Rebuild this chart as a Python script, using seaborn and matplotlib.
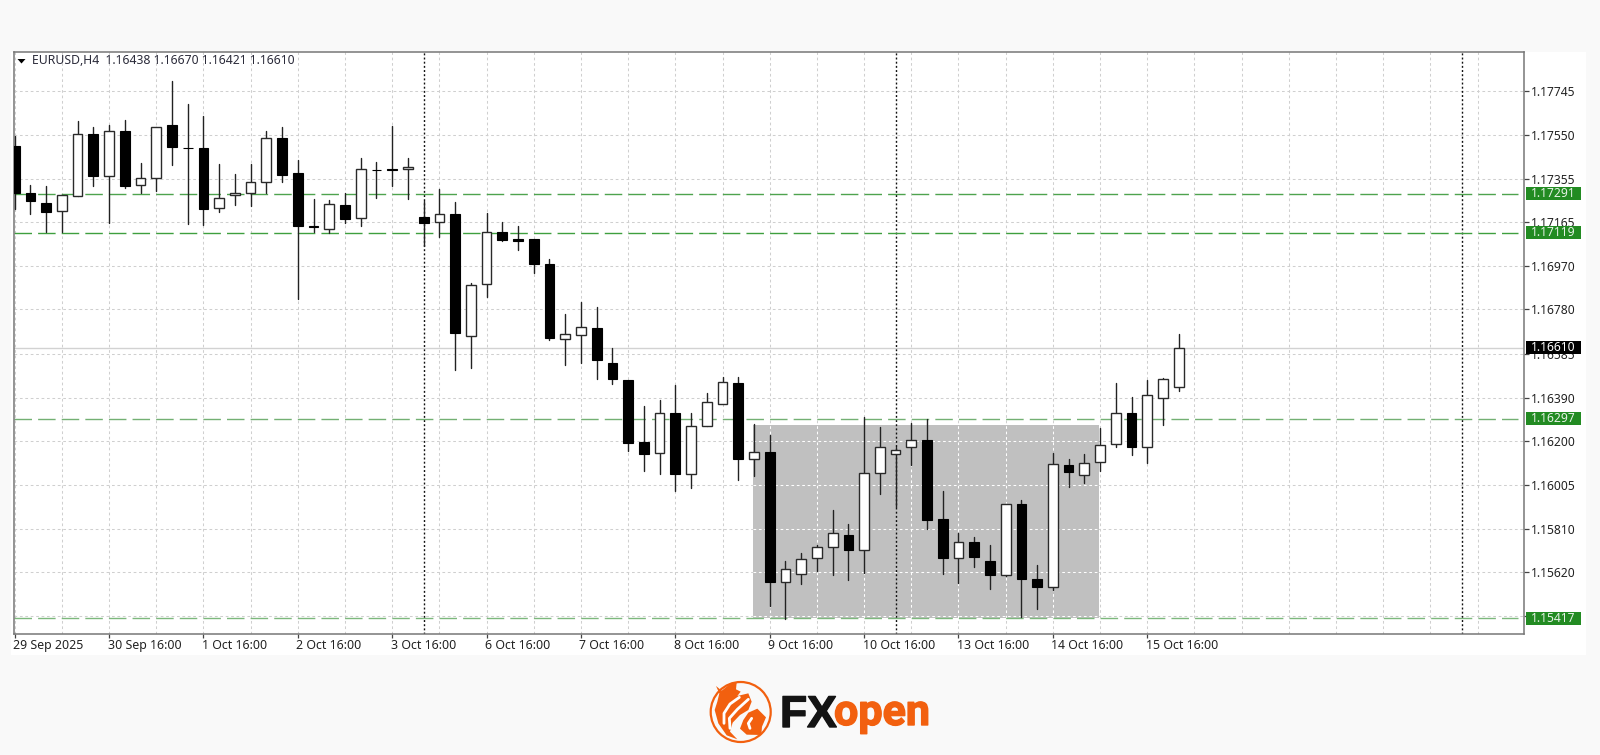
import pandas as pd
import matplotlib.pyplot as plt
import matplotlib.patheffects as pe
from matplotlib.patches import Circle, Polygon, Rectangle
from matplotlib.transforms import ScaledTranslation
import seaborn as sns

open_p = [1.17502, 1.17293, 1.17250, 1.17213, 1.17281, 1.17555, 1.17371, 1.17568, 1.17328, 1.17359,
          1.17596, 1.17493, 1.17493, 1.17230, 1.17286, 1.17296, 1.17344, 1.17536, 1.17384, 1.17147,
          1.17135, 1.17241, 1.17184, 1.17396, 1.17399, 1.17399, 1.17187, 1.17166, 1.17200, 1.16661,
          1.16893, 1.17121, 1.17090, 1.17090, 1.16982, 1.16651, 1.16669, 1.16700, 1.16545, 1.16470,
          1.16196, 1.16145, 1.16323, 1.16055, 1.16264, 1.16361, 1.16455, 1.16118, 1.16152, 1.15576,
          1.15613, 1.15682, 1.15729, 1.15785, 1.15718, 1.16056, 1.16143, 1.16172, 1.16203, 1.15853,
          1.15682, 1.15754, 1.15670, 1.15607, 1.15919, 1.15590, 1.15553, 1.16093, 1.16047, 1.16105,
          1.16186, 1.16323, 1.16173, 1.16390, 1.16438]
high_p = [1.17546, 1.17330, 1.17325, 1.17286, 1.17612, 1.17584, 1.17593, 1.17617, 1.17428, 1.17587,
          1.17789, 1.17687, 1.17633, 1.17424, 1.17377, 1.17422, 1.17570, 1.17584, 1.17439, 1.17266,
          1.17263, 1.17293, 1.17447, 1.17431, 1.17592, 1.17447, 1.17259, 1.17311, 1.17253, 1.16898,
          1.17208, 1.17168, 1.17149, 1.17090, 1.17002, 1.16760, 1.16812, 1.16792, 1.16610, 1.16470,
          1.16355, 1.16380, 1.16447, 1.16321, 1.16410, 1.16480, 1.16482, 1.16274, 1.16225, 1.15669,
          1.15704, 1.15740, 1.15893, 1.15834, 1.16306, 1.16261, 1.16174, 1.16280, 1.16296, 1.15980,
          1.15791, 1.15775, 1.15740, 1.15919, 1.15937, 1.15651, 1.16146, 1.16119, 1.16142, 1.16258,
          1.16454, 1.16392, 1.16469, 1.16478, 1.16670]
low_p = [1.17224, 1.17202, 1.17121, 1.17121, 1.17281, 1.17327, 1.17162, 1.17318, 1.17294, 1.17303,
         1.17417, 1.17159, 1.17155, 1.17212, 1.17243, 1.17235, 1.17293, 1.17341, 1.16828, 1.17121,
         1.17119, 1.17160, 1.17150, 1.17272, 1.17325, 1.17268, 1.17060, 1.17099, 1.16514, 1.16522,
         1.16835, 1.17082, 1.17044, 1.16943, 1.16647, 1.16536, 1.16545, 1.16475, 1.16451, 1.16157,
         1.16068, 1.16055, 1.15980, 1.15992, 1.16264, 1.16361, 1.16027, 1.16044, 1.15470, 1.15414,
         1.15567, 1.15623, 1.15607, 1.15587, 1.15615, 1.15966, 1.15909, 1.16093, 1.15810, 1.15610,
         1.15572, 1.15645, 1.15545, 1.15604, 1.15423, 1.15457, 1.15542, 1.15996, 1.16015, 1.16068,
         1.16172, 1.16138, 1.16101, 1.16269, 1.16421]
close_p = [1.17293, 1.17260, 1.17210, 1.17286, 1.17555, 1.17371, 1.17568, 1.17324, 1.17359, 1.17584,
           1.17497, 1.17492, 1.17225, 1.17274, 1.17296, 1.17343, 1.17536, 1.17375, 1.17149, 1.17146,
           1.17246, 1.17180, 1.17402, 1.17394, 1.17394, 1.17411, 1.17162, 1.17203, 1.16675, 1.16888,
           1.17121, 1.17088, 1.17084, 1.16981, 1.16656, 1.16670, 1.16701, 1.16557, 1.16472, 1.16192,
           1.16142, 1.16323, 1.16052, 1.16265, 1.16370, 1.16458, 1.16118, 1.16152, 1.15576, 1.15632,
           1.15676, 1.15731, 1.15791, 1.15718, 1.16056, 1.16174, 1.16159, 1.16202, 1.15852, 1.15682,
           1.15754, 1.15687, 1.15607, 1.15919, 1.15588, 1.15553, 1.16096, 1.16061, 1.16103, 1.16181,
           1.16323, 1.16173, 1.16403, 1.16471, 1.16610]

price_ticks = [1.17745, 1.17550, 1.17355, 1.17165, 1.16970, 1.16780, 1.16585,
               1.16390, 1.16200, 1.16005, 1.15810, 1.15620, 1.15425]
date_labels = ['29 Sep 2025', '30 Sep 16:00', '1 Oct 16:00', '2 Oct 16:00', '3 Oct 16:00',
               '6 Oct 16:00', '7 Oct 16:00', '8 Oct 16:00', '9 Oct 16:00', '10 Oct 16:00',
               '13 Oct 16:00', '14 Oct 16:00', '15 Oct 16:00']
levels = [1.17291, 1.17119, 1.16297, 1.15417]
level_colors = ['#4ea34e', '#3f9f3f', '#73b073', '#7db87d']
last_price = 1.16610
week_breaks = [26, 56, 92]
box_bars = [46.95, 68.95]
box_prices = [1.15417, 1.16270]

sns.set_theme(style='white')
plt.rcParams['font.family'] = ['Noto Sans', 'DejaVu Sans']

df = pd.DataFrame({'bar': range(len(open_p)), 'open': open_p, 'high': high_p,
                   'low': low_p, 'close': close_p})
wicks = df.melt(id_vars='bar', value_vars=['high', 'low'], value_name='price')

fig = plt.figure(figsize=(16, 7.55), dpi=100, facecolor='#f9f9f9')

# page in pixels, for the white panel and the logo
page = fig.add_axes([0, 0, 1, 1], zorder=0)
page.set_xlim(0, 1600)
page.set_ylim(755, 0)
page.axis('off')
page.add_patch(Rectangle((11, 52), 1575, 603, facecolor='white', edgecolor='none'))

ax = fig.add_axes([13.5 / 1600, 1 - 634 / 755, 1510.5 / 1600, 582 / 755], zorder=1)
ax.set_facecolor('white')

ax.set_yticks(price_ticks)
ax.set_yticklabels([f'{p:.5f}' for p in price_ticks], fontsize=8.7, color='#222222')
ax.set_xticks(range(0, 73, 6))
ax.set_xticklabels(date_labels, ha='left', fontsize=8.9, color='#222222')
ax.set_xticks(range(0, 96, 3), minor=True)
ax.yaxis.tick_right()
ax.xaxis.tick_bottom()
ax.tick_params(axis='y', which='major', direction='out', length=3.5, width=0.9, color='#444444', pad=1.5)
ax.tick_params(axis='x', which='major', direction='out', length=3, width=0.9, color='#444444', pad=0.5)
ax.tick_params(axis='x', which='minor', length=0)
nudge = ScaledTranslation(-1.5 / 100, 0, fig.dpi_scale_trans)
for lab in ax.get_xticklabels():
    lab.set_transform(lab.get_transform() + nudge)
ax.grid(True, which='both', color='#cfcfcf', lw=0.75, ls=(0, (2.6, 2.6)), zorder=0)
ax.set_axisbelow(True)
for s in ax.spines.values():
    s.set_color('#777777')
    s.set_linewidth(1.1)

# gray box, grid shows white through it
ax.add_patch(Rectangle((box_bars[0], box_prices[0]), box_bars[1] - box_bars[0],
                       box_prices[1] - box_prices[0], facecolor='#c0c0c0', edgecolor='none', zorder=1))
for b in range(48, 69, 3):
    ax.vlines(b, box_prices[0], box_prices[1], color='white', lw=0.75, ls=(0, (2.6, 2.6)), zorder=1.2)
for p in price_ticks:
    if box_prices[0] < p < box_prices[1]:
        ax.hlines(p, box_bars[0], box_bars[1], color='white', lw=0.75, ls=(0, (2.6, 2.6)), zorder=1.2)

ax.vlines(week_breaks, 1.15347, 1.17917, color='#111111', lw=1.0, ls=(0, (1.4, 1.6)), zorder=1.5)
ax.axhline(last_price, color='#d2d2d2', lw=1.0, zorder=1.5)
for lev, c in zip(levels, level_colors):
    ax.plot([-0.07, 95.57], [lev, lev], color=c, lw=1.0, ls=(0, (12.6, 4.4)), zorder=2)

# candles
sns.lineplot(data=wicks, x='bar', y='price', units='bar', estimator=None, color='#222222',
             lw=1.0, legend=False, ax=ax, zorder=3)
up = df[df['close'] >= df['open']]
down = df[df['close'] < df['open']]
ax.bar(down['bar'], down['close'] - down['open'], bottom=down['open'], width=0.62,
       color='black', edgecolor='black', lw=0.8, zorder=4)
ax.bar(up['bar'], up['close'] - up['open'], bottom=up['open'], width=0.62,
       color='white', edgecolor='#2a2a2a', lw=1.0, zorder=4)

ax.set_xlim(-0.074, 95.95)
ax.set_ylim(1.15347, 1.17917)
ax.set_xlabel('')
ax.set_ylabel('')

# header
ax.add_patch(Polygon([(17.5, 59), (25.5, 59), (21.5, 63.5)], transform=page.transData,
                     facecolor='black', edgecolor='none', zorder=6))
ax.text(32, 61, 'EURUSD,H4  1.16438 1.16670 1.16421 1.16610', fontsize=8.8, color='#2b2b3a',
        va='center', ha='left', transform=page.transData, zorder=6)

# price badges on the right
badge = ax.get_yaxis_transform()
bx = (1526 - 13.5) / 1510.5
bw = 54.7 / 1510.5
bh = 13 * 0.00004417
tx = (1531 - 13.5) / 1510.5
for lev in levels + [last_price]:
    col = 'black' if lev == last_price else '#228b22'
    ax.add_patch(Rectangle((bx, lev - bh / 2), bw, bh, transform=badge, facecolor=col,
                           edgecolor='none', clip_on=False, zorder=7))
    ax.text(tx, lev, f'{lev:.5f}', transform=badge, fontsize=8.7, va='center', ha='left',
            color='white' if lev == last_price else '#e6f2e6', zorder=8, clip_on=False)

# logo
orange = '#f2600f'
page.add_patch(Circle((740.7, 712), 30, facecolor='none', edgecolor=orange, lw=1.6))


def z(pts):
    return [(680 + a / 3, 660 + b / 3) for a, b in pts]


page.add_patch(Polygon(z([(108, 78), (125, 92), (150, 72), (170, 68), (168, 88), (182, 95), (172, 108),
                          (205, 100), (215, 125), (205, 150), (180, 165), (158, 188), (150, 215), (172, 238),
                          (140, 226), (115, 190), (104, 150), (112, 125), (118, 100)]),
                       facecolor=orange, edgecolor='none'))
page.add_patch(Polygon(z([(205, 158), (232, 146), (258, 172), (246, 200), (244, 225), (200, 224),
                          (180, 206), (190, 180)]), facecolor=orange, edgecolor='none'))
for stripe in [[(205, 118), (172, 148), (148, 175), (150, 205)],
               [(178, 112), (150, 132), (132, 160), (132, 190)],
               [(215, 175), (205, 190), (210, 205)]]:
    xs, ys = zip(*z(stripe))
    page.plot(xs, ys, color='white', lw=2.0, solid_capstyle='round')
page.text(780, 727, 'FX', fontsize=32, fontweight='bold', family='Liberation Sans', color='#141414',
          va='baseline', ha='left', path_effects=[pe.withStroke(linewidth=1.0, foreground='#141414')])
page.text(834, 725, 'open', fontsize=31, fontweight='bold', family='Roboto', color=orange,
          va='baseline', ha='left', path_effects=[pe.withStroke(linewidth=1.0, foreground=orange)])

fig.savefig('out.png', dpi=100, facecolor=fig.get_facecolor())
